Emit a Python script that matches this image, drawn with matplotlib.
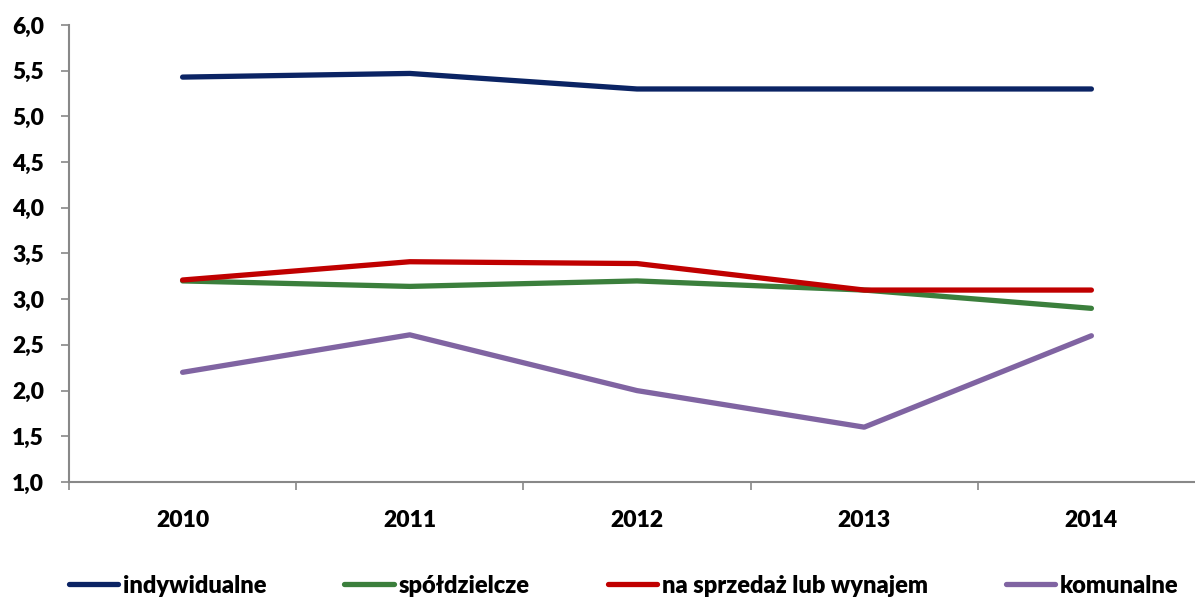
import matplotlib
matplotlib.use("Agg")
import matplotlib.pyplot as plt
from matplotlib.ticker import FuncFormatter, FixedLocator

years = ["2010", "2011", "2012", "2013", "2014"]
indywidualne = [5.43, 5.47, 5.30, 5.30, 5.30]
spoldzielcze = [3.20, 3.14, 3.20, 3.10, 2.90]
na_sprzedaz = [3.21, 3.41, 3.39, 3.10, 3.10]
komunalne = [2.20, 2.61, 2.00, 1.60, 2.60]

series = [
    ("indywidualne", indywidualne, "#0B2464"),
    ("spółdzielcze", spoldzielcze, "#3B7F3C"),
    ("na sprzedaż lub wynajem", na_sprzedaz, "#C00000"),
    ("komunalne", komunalne, "#8064A2"),
]

plt.rcParams['font.family'] = ['Lato', 'DejaVu Sans']
fig = plt.figure(figsize=(11.95, 6.01), dpi=100)
W, H = 1195, 601
ax = fig.add_axes([69 / W, (H - 482) / H, (1205 - 69) / W, (482 - 25) / H])

x = list(range(len(years)))
for name, vals, col in series:
    ax.plot(x, vals, color=col, lw=3.8, label=name, solid_capstyle='round')

ax.set_xlim(-0.5, 4.5)
ax.set_ylim(1.0, 6.0)
ax.set_yticks([1.0 + 0.5 * i for i in range(11)])
ax.yaxis.set_major_formatter(FuncFormatter(lambda v, p: f"{v:.1f}".replace(".", ",")))
ax.set_xticks(x)
ax.set_xticklabels(years)
ax.xaxis.set_minor_locator(FixedLocator([i + 0.5 for i in range(-1, 5)]))
ax.tick_params(axis='x', which='major', length=0, pad=20)
ax.tick_params(axis='x', which='minor', length=6, color='#888888', width=1.2, direction='out')
ax.tick_params(axis='y', length=6, color='#888888', width=1.2, pad=12)
for lab in ax.get_xticklabels() + ax.get_yticklabels():
    lab.set_fontsize(16.5)
    lab.set_fontweight('heavy')

for s in ['top', 'right']:
    ax.spines[s].set_visible(False)
for s in ['left', 'bottom']:
    ax.spines[s].set_color('#888888')
    ax.spines[s].set_linewidth(1.5)

handles, labels = ax.get_legend_handles_labels()
leg = fig.legend(handles, labels, loc='lower center', bbox_to_anchor=(0.522, -0.028), ncol=4,
                 frameon=False, handlelength=2.1, handletextpad=0.2, columnspacing=3.3,
                 prop={'family': ['Lato', 'DejaVu Sans'], 'weight': 'heavy', 'size': 17})

fig.savefig("out.png", dpi=100)
